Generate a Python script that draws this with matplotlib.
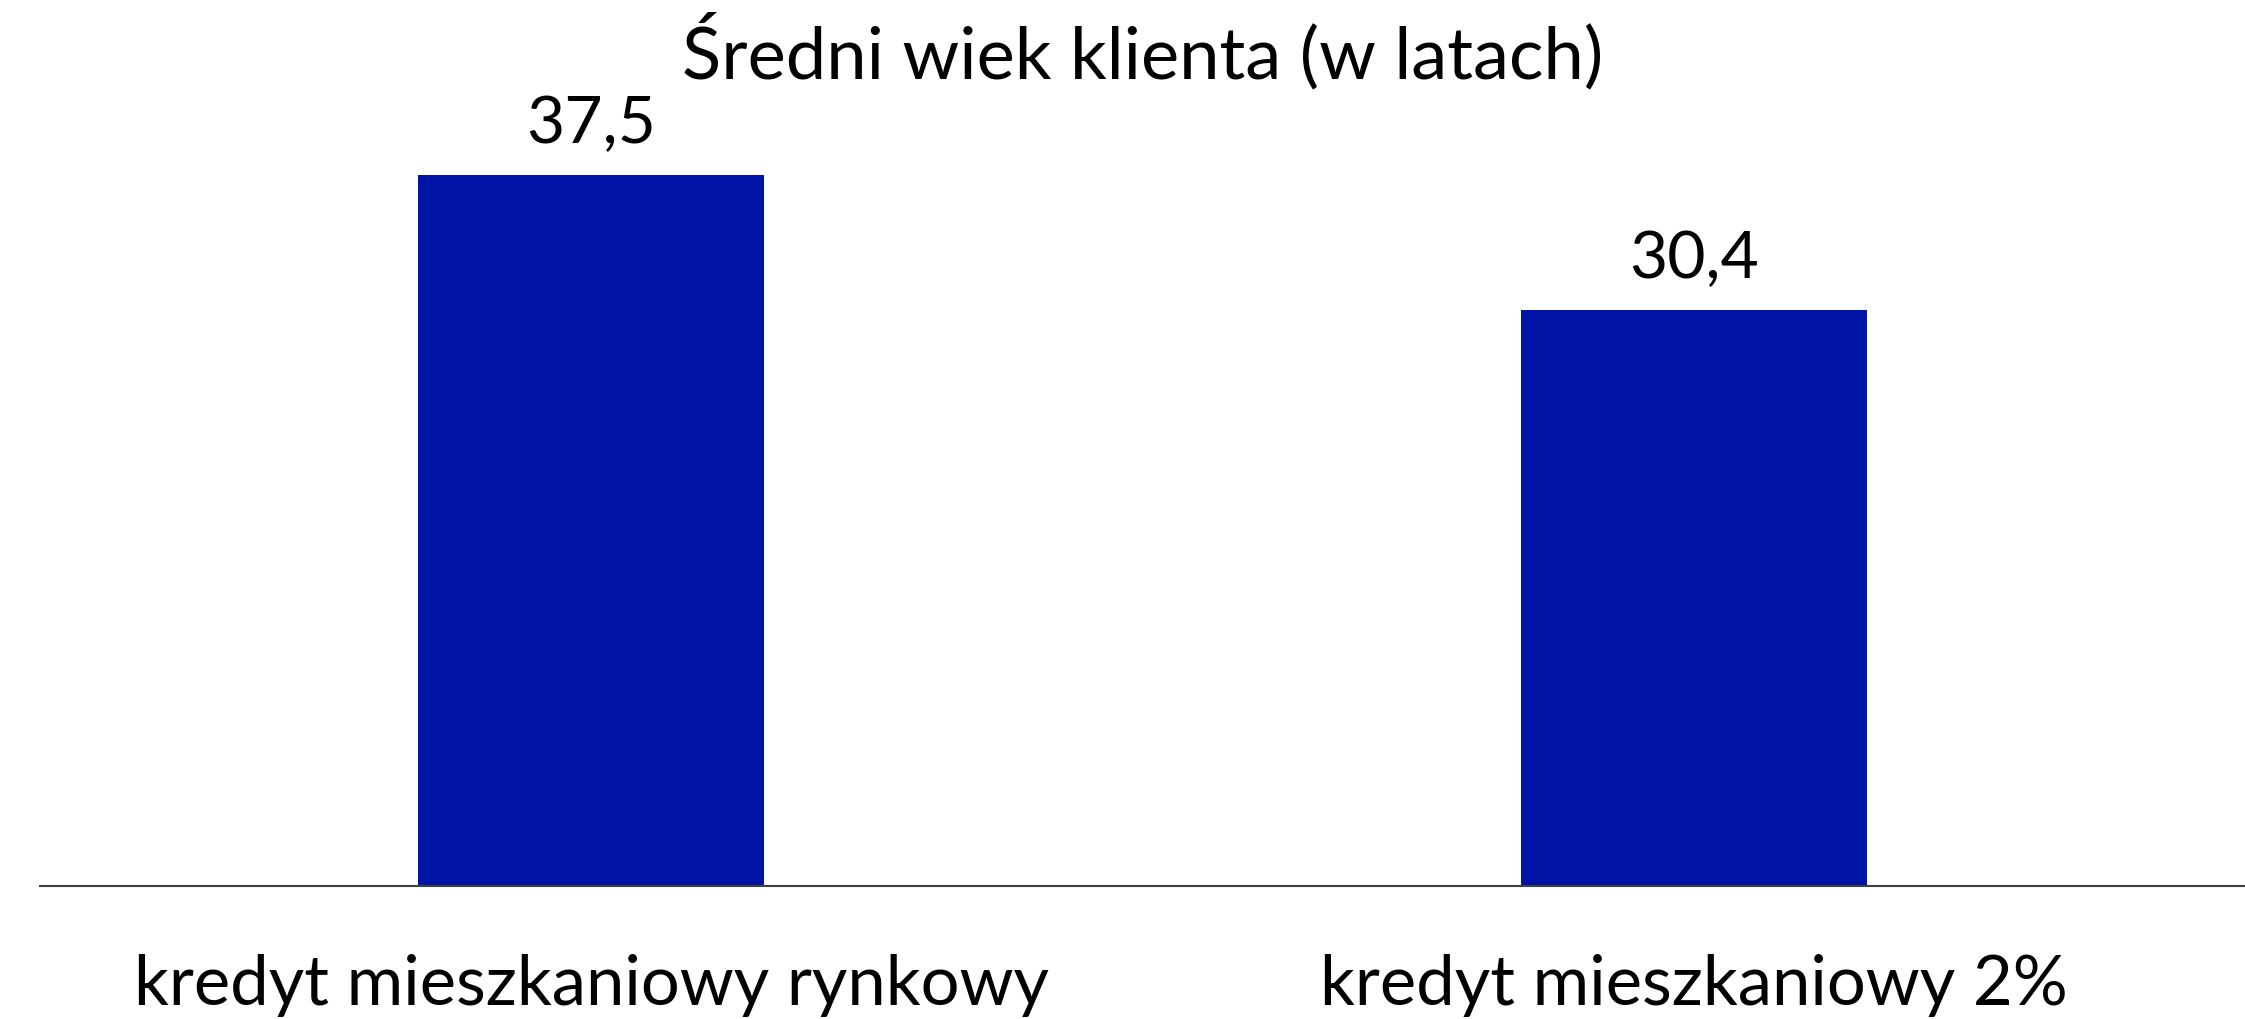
import matplotlib
matplotlib.use("Agg")
import matplotlib.pyplot as plt

categories = ["kredyt mieszkaniowy rynkowy", "kredyt mieszkaniowy 2%"]
values = [37.5, 30.4]
value_labels = ["37,5", "30,4"]
title = "Średni wiek klienta (w latach)"

plt.rcParams['font.family'] = ['Lato', 'DejaVu Sans']

W, H = 2245, 1019
fig = plt.figure(figsize=(W/100, H/100), dpi=100)
ax_bottom = 886
ymax = 40
px_per_unit = 18.96
ax_top = ax_bottom - ymax*px_per_unit
ax = fig.add_axes([40/W, 1-ax_bottom/H, 1-40/W, (ax_bottom-ax_top)/H])

x = list(range(len(categories)))
ax.bar(x, values, width=0.314, color='#0014A8')
ax.set_xlim(-0.5, 1.5)
ax.set_ylim(0, ymax)
for s in ['top', 'right', 'left']:
    ax.spines[s].set_visible(False)
ax.spines['bottom'].set_color('#404040')
ax.spines['bottom'].set_linewidth(1.5)
ax.set_yticks([])
ax.set_xticks(x)
ax.set_xticklabels(categories, fontsize=49.5, va='baseline')
ax.tick_params(axis='x', length=0, pad=85.7)

for xi, v, lab in zip(x, values, value_labels):
    ax.annotate(lab, (xi, v), xytext=(0, 23), textcoords='offset points',
                ha='center', va='baseline', fontsize=47.5)

fig.text(1143/W, 1-78/H, title, ha='center', va='baseline', fontsize=52)

fig.savefig("out.png", dpi=100, facecolor='white')
